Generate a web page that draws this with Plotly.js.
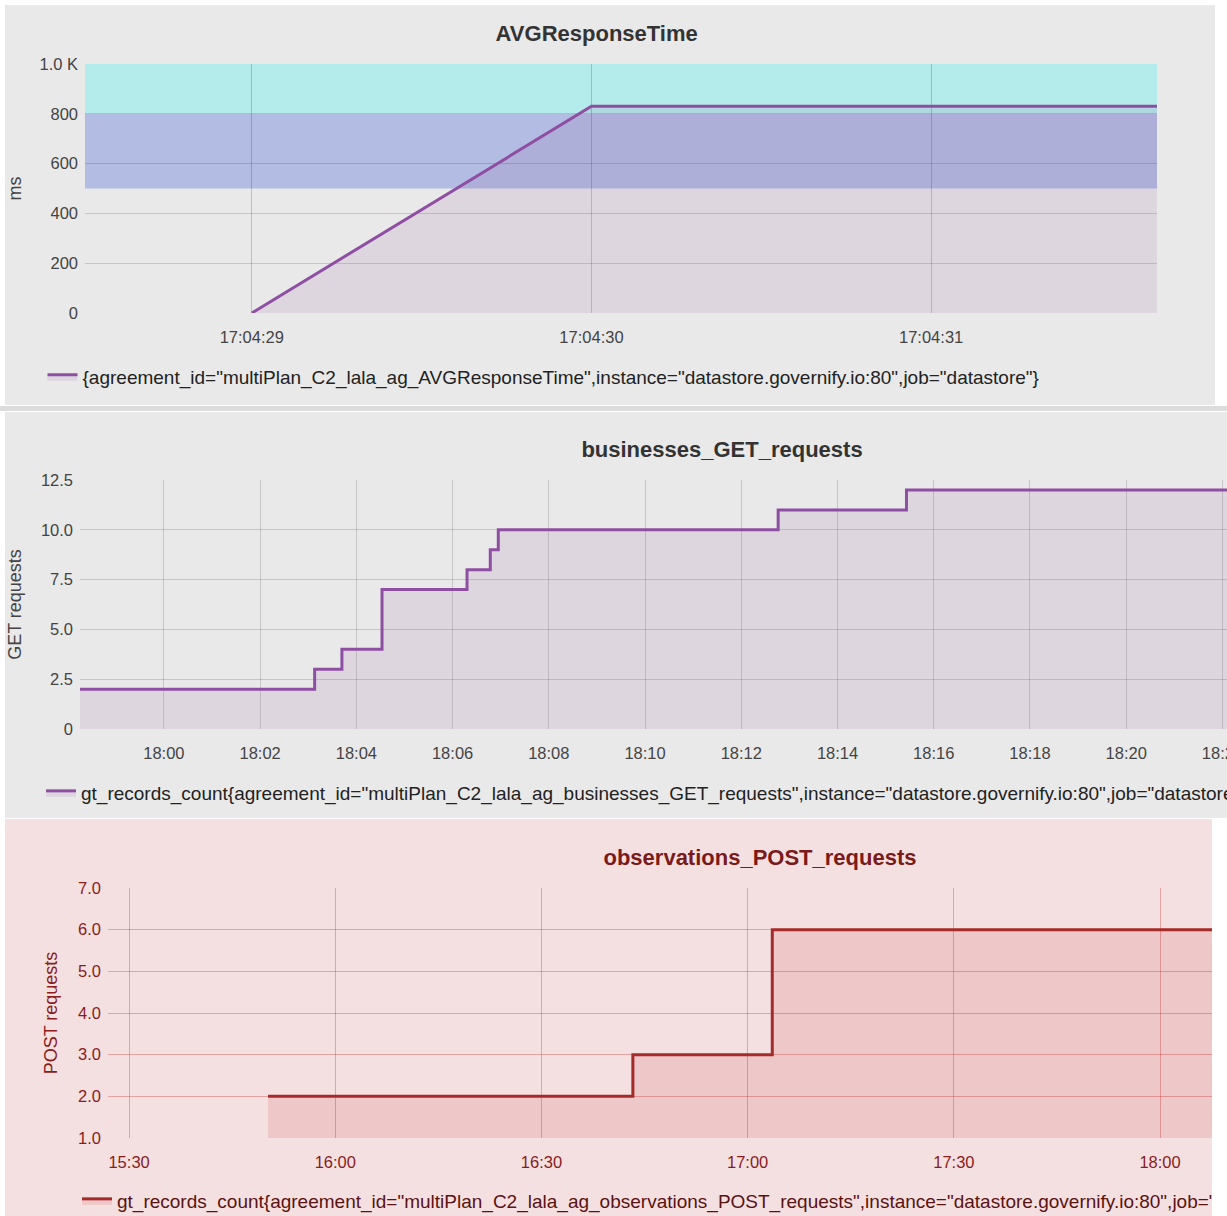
<!DOCTYPE html>
<html>
<head>
<meta charset="utf-8">
<script src="https://cdn.plot.ly/plotly-3.0.1.min.js"></script>
<style>
  html, body { margin: 0; padding: 0; background: #ffffff; width: 1227px; height: 1216px; overflow: hidden; }
  .clip { position: absolute; overflow: hidden; }
  #sep1 { position: absolute; left: 0; top: 406px; width: 1227px; height: 5px; background: #dcdcdc; }
</style>
</head>
<body>
<div class="clip" style="left:5px; top:5px; width:1210px; height:400px;"><div id="p1" style="width:1210px; height:400px;"></div></div>
<div id="sep1"></div>
<div class="clip" style="left:5px; top:412px; width:1222px; height:406px;"><div id="p2" style="width:1500px; height:406px;"></div></div>
<div class="clip" style="left:5px; top:819px; width:1207px; height:397px;"><div id="p3" style="width:1500px; height:397px;"></div></div>
<script>
// ---------- data ----------
const DAY = '2018-01-01 ';

// Panel 1: AVGResponseTime (ms)
const avgTimes  = ['17:04:29', '17:04:30', '17:04:31', '17:04:31.665'];
const avgValues = [0, 830, 830, 830];
const avgThresholds = [500, 800, 1000];          // band edges
const avgYTickVals  = [0, 200, 400, 600, 800, 1000];
const avgYTickText  = ['0', '200', '400', '600', '800', '1.0 K'];
const avgName = '{agreement_id="multiPlan_C2_lala_ag_AVGResponseTime",instance="datastore.governify.io:80",job="datastore"}';

// Panel 2: businesses_GET_requests
const getTimes  = ['17:58:15', '18:03:08', '18:03:42', '18:04:32', '18:06:18', '18:06:47', '18:06:57', '18:12:46', '18:15:26', '18:23:18'];
const getValues = [2, 3, 4, 7, 8, 9, 10, 11, 12, 12];
const getYTickVals = [0, 2.5, 5, 7.5, 10, 12.5];
const getYTickText = ['0', '2.5', '5.0', '7.5', '10.0', '12.5'];
const getName = 'gt_records_count{agreement_id="multiPlan_C2_lala_ag_businesses_GET_requests",instance="datastore.governify.io:80",job="datastore"}';

// Panel 3: observations_POST_requests
const postTimes  = ['15:50:13', '16:43:18', '17:03:35', '18:18:11'];
const postValues = [2, 3, 6, 6];
const postName = 'gt_records_count{agreement_id="multiPlan_C2_lala_ag_observations_POST_requests",instance="datastore.governify.io:80",job="datastore"}';

const FONT = '"Liberation Sans Narrow", "Arial Narrow", "Liberation Sans", Arial, sans-serif';
const cfg = {displayModeBar: false, staticPlot: true};
const t = arr => arr.map(s => DAY + s);
const TICK = 16.5, LEG = 19, TTL = 22, AXT = 18;

// ---------- panel 1 ----------
const bandColors = ['rgba(140,155,220,0.58)', 'rgba(170,235,235,0.85)'];
const shapes1 = [];
for (let i = 0; i < avgThresholds.length - 1; i++) {
  shapes1.push({type: 'rect', xref: 'paper', yref: 'y', x0: 0, x1: 1,
    y0: avgThresholds[i], y1: avgThresholds[i + 1],
    fillcolor: bandColors[i], line: {width: 0}, layer: 'below'});
}
Plotly.newPlot('p1', [{
  x: t(avgTimes), y: avgValues, type: 'scatter', mode: 'lines', name: avgName,
  line: {color: '#8e4fa3', width: 3}, fill: 'tozeroy', fillcolor: 'rgba(142,84,160,0.12)',
  showlegend: true
}], {
  width: 1210, height: 400,
  paper_bgcolor: '#e9e9e9', plot_bgcolor: 'rgba(0,0,0,0)',
  margin: {l: 80, r: 58, t: 59, b: 92},
  font: {family: FONT, size: TICK, color: '#444'},
  title: {text: '<b>AVGResponseTime</b>', x: 0.489, xref: 'container', y: 0.93, yref: 'container', yanchor: 'middle', font: {size: TTL, color: '#333', family: FONT}},
  xaxis: {type: 'date', range: [DAY + '17:04:28.509', DAY + '17:04:31.665'], tick0: DAY + '17:04:29', dtick: 1000,
    tickformat: '%H:%M:%S', showgrid: true, gridcolor: 'rgba(0,0,0,0.18)', zeroline: false, showline: false, ticks: '', ticklabelstandoff: 12},
  yaxis: {range: [0, 1000], tickvals: avgYTickVals, ticktext: avgYTickText, showgrid: true, gridcolor: 'rgba(0,0,0,0.15)',
    zeroline: false, showline: false, ticks: '', ticklabelstandoff: 6,
    title: {text: 'ms', standoff: 21, font: {size: AXT, color: '#444'}}},
  shapes: shapes1,
  showlegend: true,
  legend: {orientation: 'h', xref: 'container', yref: 'container', x: 0.031, y: 1 - 372 / 400, xanchor: 'left', yanchor: 'middle',
    bgcolor: 'rgba(0,0,0,0)', font: {size: LEG, color: '#222'}}
}, cfg);

// ---------- panel 2 ----------
Plotly.newPlot('p2', [{
  x: t(getTimes), y: getValues, type: 'scatter', mode: 'lines', name: getName, line: {shape: 'hv', color: '#8e4fa3', width: 3},
  fill: 'tozeroy', fillcolor: 'rgba(142,84,160,0.12)', showlegend: true
}], {
  width: 1500, height: 406,
  paper_bgcolor: '#e9e9e9', plot_bgcolor: 'rgba(0,0,0,0)',
  margin: {l: 75, r: 220, t: 68, b: 89},
  font: {family: FONT, size: TICK, color: '#444'},
  title: {text: '<b>businesses_GET_requests</b>', x: 717 / 1500, xref: 'container', y: 1 - 37 / 406, yref: 'container', yanchor: 'middle', font: {size: TTL, color: '#333', family: FONT}},
  xaxis: {type: 'date', range: [DAY + '17:58:15.4', DAY + '18:23:18'], tick0: DAY + '18:00', dtick: 120000, tickformat: '%H:%M',
    showgrid: true, gridcolor: 'rgba(0,0,0,0.15)', zeroline: false, showline: false, ticks: '', ticklabelstandoff: 12},
  yaxis: {range: [0, 12.5], tickvals: getYTickVals, ticktext: getYTickText, showgrid: true, gridcolor: 'rgba(0,0,0,0.15)',
    zeroline: false, showline: false, ticks: '', ticklabelstandoff: 6,
    title: {text: 'GET requests', standoff: 16, font: {size: AXT, color: '#444'}}},
  showlegend: true,
  legend: {orientation: 'h', xref: 'container', yref: 'container', x: 36 / 1500, y: 1 - 381 / 406, xanchor: 'left', yanchor: 'middle',
    bgcolor: 'rgba(0,0,0,0)', font: {size: LEG, color: '#222'}}
}, cfg);

// ---------- panel 3 ----------
const RED = '#8a1c1c';
Plotly.newPlot('p3', [{
  x: t(postTimes), y: postValues, type: 'scatter', mode: 'lines', name: postName, line: {shape: 'hv', color: '#a52a2a', width: 3},
  fill: 'tozeroy', fillcolor: 'rgba(200,60,60,0.15)', showlegend: true
}], {
  width: 1500, height: 397,
  paper_bgcolor: '#f5e0e1', plot_bgcolor: 'rgba(0,0,0,0)',
  margin: {l: 103, r: 220, t: 69, b: 78},
  font: {family: FONT, size: TICK, color: RED},
  title: {text: '<b>observations_POST_requests</b>', x: 755 / 1500, xref: 'container', y: 1 - 38 / 397, yref: 'container', yanchor: 'middle', font: {size: TTL, color: '#7a1a1a', family: FONT}},
  xaxis: {type: 'date', range: [DAY + '15:26:56', DAY + '18:18:11'], tick0: DAY + '15:30', dtick: 1800000, tickformat: '%H:%M',
    showgrid: true, gridcolor: 'rgba(200,60,60,0.38)', zeroline: false, showline: false, ticks: '', ticklabelstandoff: 12},
  yaxis: {range: [1, 7], dtick: 1, tickformat: '.1f', showgrid: true, gridcolor: 'rgba(200,60,60,0.38)',
    zeroline: false, showline: false, ticks: '', ticklabelstandoff: 6,
    title: {text: 'POST requests', standoff: 15, font: {size: AXT, color: RED}}},
  showlegend: true,
  legend: {orientation: 'h', xref: 'container', yref: 'container', x: 72 / 1500, y: 1 - 382 / 397, xanchor: 'left', yanchor: 'middle',
    bgcolor: 'rgba(0,0,0,0)', font: {size: LEG, color: '#5a1212'}}
}, cfg);
</script>
</body>
</html>
